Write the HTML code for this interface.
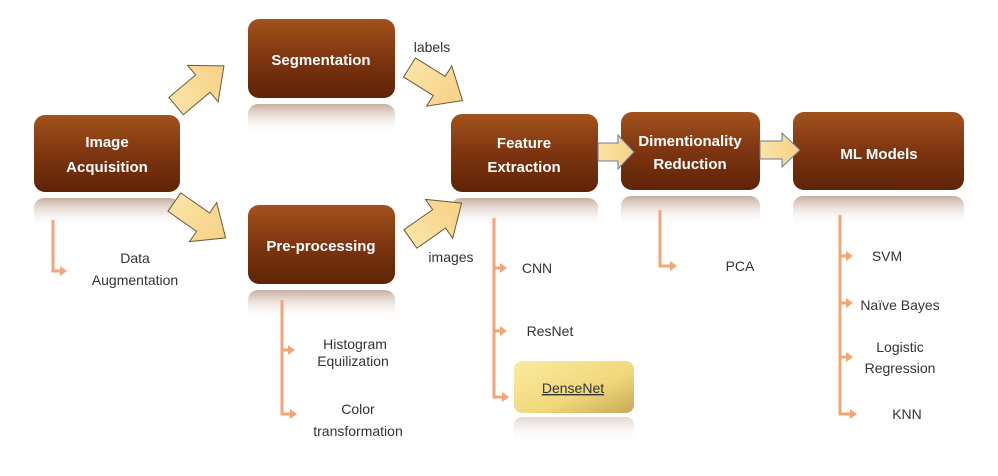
<!DOCTYPE html>
<html><head><meta charset="utf-8"><style>
body{margin:0;background:#fff;width:998px;height:471px;overflow:hidden}
text{font-family:"Liberation Sans",sans-serif}
.bt{fill:#fff;font-weight:bold;font-size:15px;text-anchor:middle}
.st{fill:#333;font-size:14px;text-anchor:middle}
</style></head><body>
<svg width="998" height="471" viewBox="0 0 998 471" xmlns="http://www.w3.org/2000/svg">
<defs>
<linearGradient id="bx" x1="0" y1="0" x2="0" y2="1">
<stop offset="0" stop-color="#a2521c"/><stop offset="0.5" stop-color="#7e3510"/><stop offset="1" stop-color="#5e2406"/></linearGradient>
<linearGradient id="rf" x1="0" y1="0" x2="0" y2="1">
<stop offset="0" stop-color="#b08a74" stop-opacity="0.7"/><stop offset="1" stop-color="#fff" stop-opacity="0"/></linearGradient>
<linearGradient id="ar" x1="0" y1="0" x2="1" y2="0">
<stop offset="0" stop-color="#fbe3a6"/><stop offset="1" stop-color="#f7d186"/></linearGradient>
<linearGradient id="dn" x1="0" y1="0" x2="1" y2="1">
<stop offset="0" stop-color="#fbeaa0"/><stop offset="0.6" stop-color="#f0d77a"/><stop offset="1" stop-color="#c8a858"/></linearGradient>
<path id="ba" d="M-25,-9 L3,-9 L3,-19 L25,0 L3,19 L3,9 L-25,9Z"/>
</defs>

<g fill="url(#rf)">
<rect x="34" y="198" width="146" height="30" rx="10"/>
<rect x="248" y="104" width="147" height="30" rx="10"/>
<rect x="248" y="290" width="147" height="30" rx="10"/>
<rect x="451" y="198" width="147" height="30" rx="10"/>
<rect x="621" y="196" width="139" height="30" rx="10"/>
<rect x="793" y="196" width="171" height="30" rx="10"/>
<rect x="514" y="417" width="120" height="25" rx="8" opacity="0.5"/>
</g>

<g fill="url(#bx)">
<rect x="34" y="115" width="146" height="77" rx="11"/>
<rect x="248" y="19" width="147" height="79" rx="11"/>
<rect x="248" y="205" width="147" height="79" rx="11"/>
<rect x="451" y="114" width="147" height="78" rx="11"/>
<rect x="621" y="112" width="139" height="78" rx="11"/>
<rect x="793" y="112" width="171" height="78" rx="11"/>
</g>
<text class="bt" x="107" y="147">Image</text>
<text class="bt" x="107" y="172">Acquisition</text>
<text class="bt" x="321" y="65">Segmentation</text>
<text class="bt" x="321" y="251">Pre-processing</text>
<text class="bt" x="524" y="148">Feature</text>
<text class="bt" x="524" y="172">Extraction</text>
<text class="bt" x="690" y="146">Dimentionality</text>
<text class="bt" x="690" y="169">Reduction</text>
<text class="bt" x="879" y="159">ML Models</text>

<g fill="url(#ar)" stroke="#6a5a3a" stroke-width="0.8">
<use href="#ba" transform="translate(200,86) rotate(-40) scale(1.25)"/>
<use href="#ba" transform="translate(200,220) rotate(35) scale(1.25)"/>
<use href="#ba" transform="translate(436,84) rotate(32) scale(1.25)"/>
<use href="#ba" transform="translate(436,221) rotate(-35) scale(1.25)"/>
</g>
<g fill="url(#ar)" stroke="#6a7aa0" stroke-width="1">
<path d="M598,143 L618,143 L618,135 L634,152 L618,169 L618,161 L598,161Z"/>
<path d="M760,141 L782,141 L782,133 L800,150 L782,167 L782,159 L760,159Z"/>
</g>
<text class="st" x="432" y="52">labels</text>
<text class="st" x="451" y="262">images</text>

<g stroke="#f0a676" stroke-width="3" fill="none">
<path d="M53,220 V271 H62"/>
<path d="M282,300 V414 H292"/>
<path d="M282,350 H290"/>
<path d="M494,218 V397 H504"/>
<path d="M494,268 H502"/>
<path d="M494,331 H502"/>
<path d="M660,210 V266 H672"/>
<path d="M840,215 V414 H852"/>
<path d="M840,256 H848"/>
<path d="M840,303 H848"/>
<path d="M840,357 H848"/>
</g>
<g fill="#f0a676">
<path d="M60,266 L67,271 L60,276Z"/>
<path d="M290,409 L297,414 L290,419Z"/>
<path d="M288,345 L295,350 L288,355Z"/>
<path d="M502,392 L509,397 L502,402Z"/>
<path d="M500,263 L507,268 L500,273Z"/>
<path d="M500,326 L507,331 L500,336Z"/>
<path d="M670,261 L677,266 L670,271Z"/>
<path d="M850,409 L857,414 L850,419Z"/>
<path d="M846,251 L853,256 L846,261Z"/>
<path d="M846,298 L853,303 L846,308Z"/>
<path d="M846,352 L853,357 L846,362Z"/>
</g>

<text class="st" x="135" y="263">Data</text>
<text class="st" x="135" y="285">Augmentation</text>
<text class="st" x="355" y="349">Histogram</text>
<text class="st" x="353" y="366">Equilization</text>
<text class="st" x="358" y="414">Color</text>
<text class="st" x="358" y="436">transformation</text>
<text class="st" x="537" y="273">CNN</text>
<text class="st" x="550" y="336">ResNet</text>
<rect x="514" y="361" width="120" height="52" rx="8" fill="url(#dn)"/>
<text class="st" x="573" y="393" text-decoration="underline" fill="#222">DenseNet</text>
<text class="st" x="740" y="271">PCA</text>
<text class="st" x="887" y="261">SVM</text>
<text class="st" x="900" y="310">Naïve Bayes</text>
<text class="st" x="900" y="352">Logistic</text>
<text class="st" x="900" y="373">Regression</text>
<text class="st" x="907" y="419">KNN</text>
</svg>
</body></html>
